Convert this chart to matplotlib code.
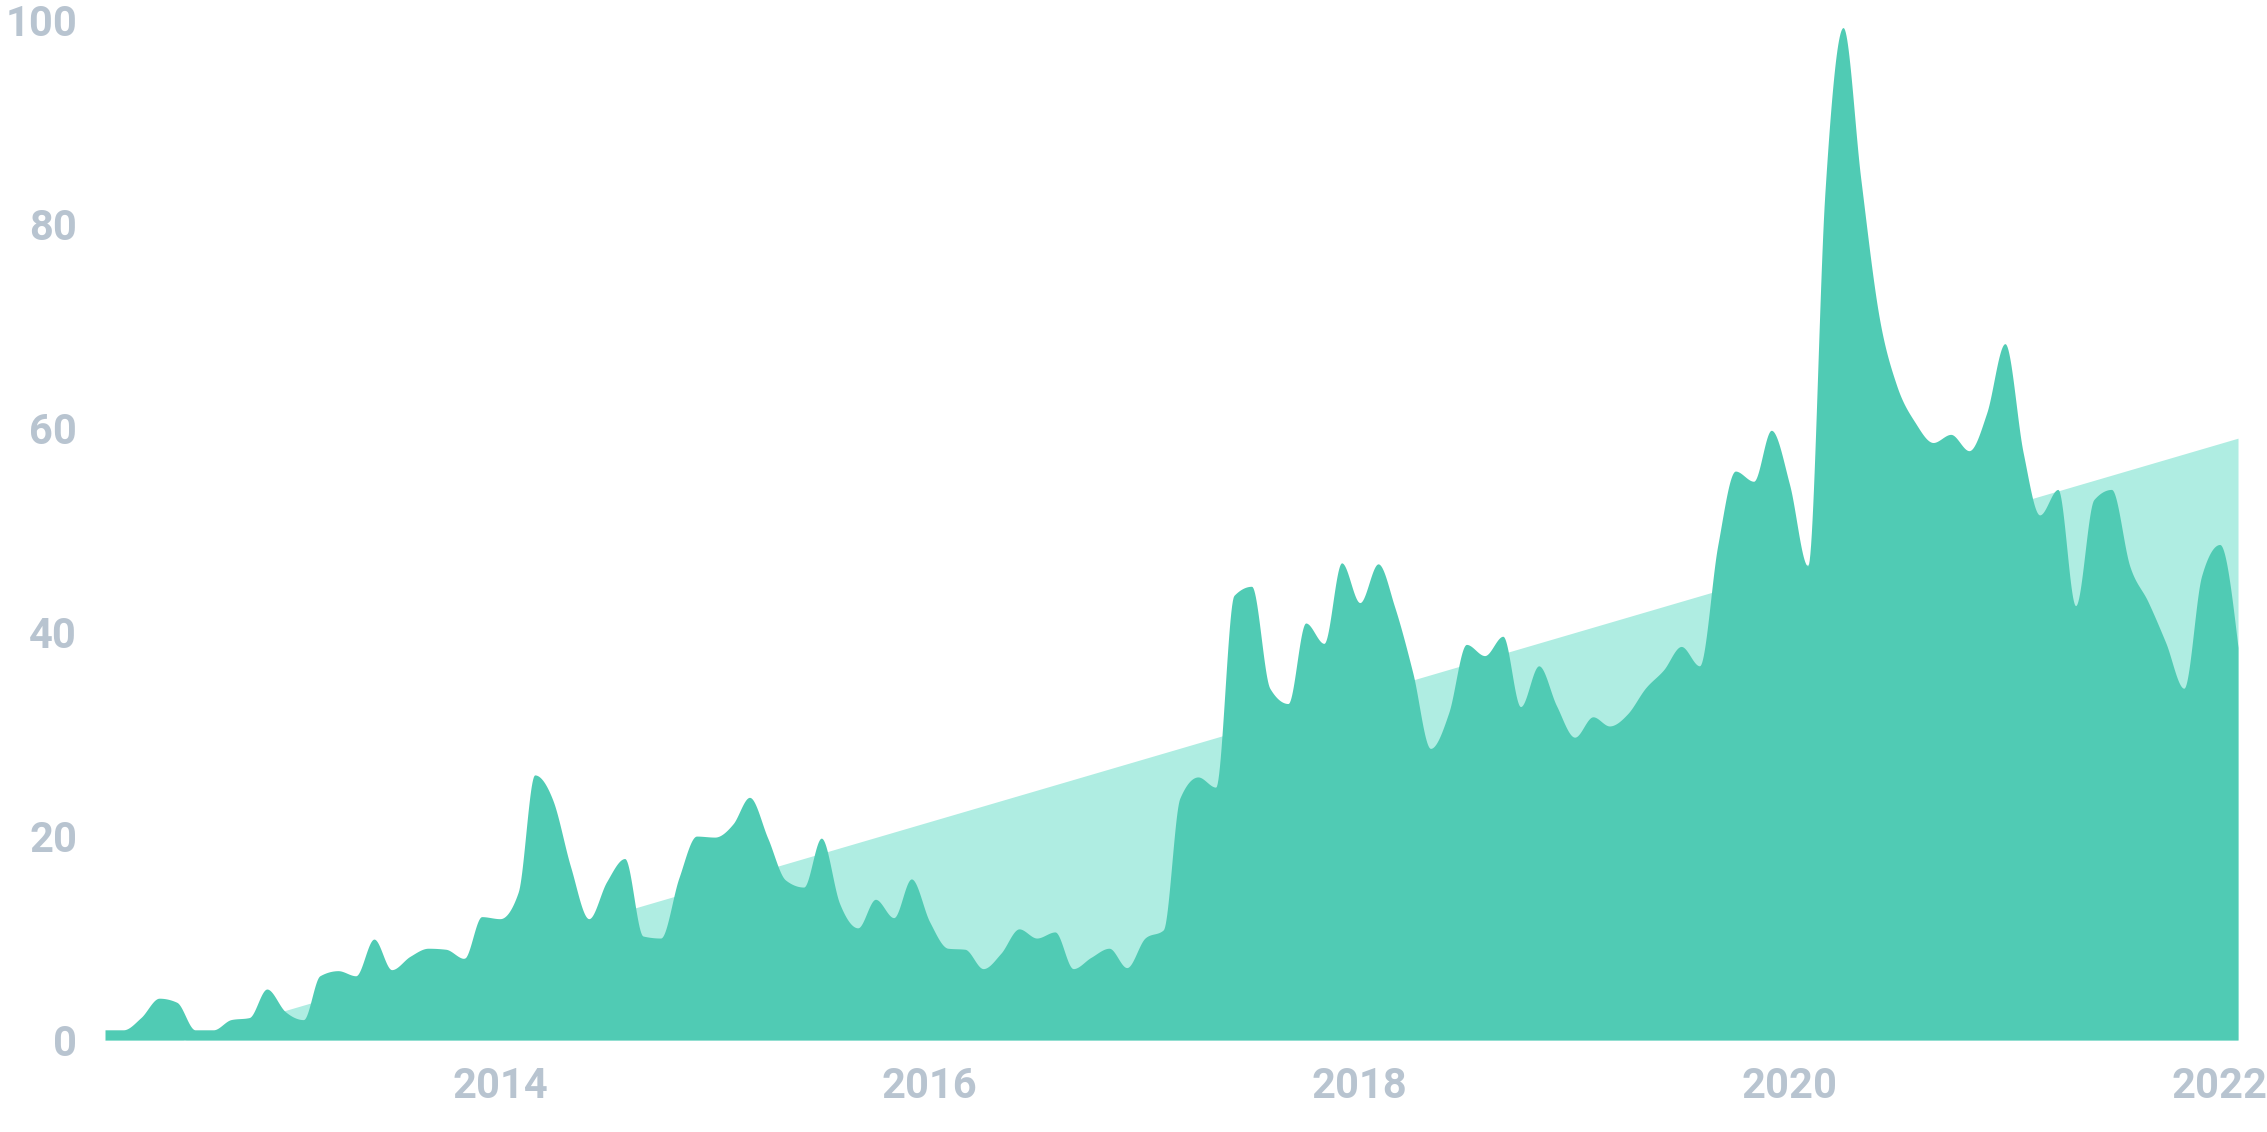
import numpy as np
import pandas as pd
import matplotlib
matplotlib.use("Agg")
import matplotlib.pyplot as plt
import matplotlib.dates as mdates


# monthly values, Mar 2012 .. Feb 2022
start_month = "2012-03-01"
values = [
    1.0, 1.0, 2.2, 4.1, 3.7, 1.0, 1.0, 2.0, 2.2, 5.0,
    2.8, 2.0, 6.3, 6.8, 6.3, 9.9, 6.9, 8.2, 9.0, 8.9,
    8.0, 12.1, 11.9, 14.5, 26.0, 23.5, 17.0, 11.9, 15.5, 17.8,
    10.2, 10.0, 15.9, 20.0, 19.9, 21.2, 23.8, 19.8, 15.7, 15.0,
    19.8, 13.4, 11.0, 13.8, 12.0, 15.8, 11.6, 9.0, 8.9, 7.0,
    8.5, 10.9, 10.0, 10.6, 7.0, 8.1, 9.0, 7.1, 10.0, 10.8,
    23.7, 25.8, 24.8, 43.6, 44.5, 34.5, 33.0, 40.9, 38.9, 46.8,
    42.9, 46.7, 42.5, 36.0, 28.6, 32.1, 38.8, 37.7, 39.6, 32.7,
    36.7, 32.8, 29.7, 31.7, 30.8, 32.0, 34.5, 36.3, 38.6, 36.7,
    48.5, 55.8, 54.8, 59.8, 54.5, 46.5, 83.0, 99.3, 84.5, 71.0,
    64.2, 60.6, 58.6, 59.4, 57.8, 61.5, 68.3, 57.6, 51.5, 54.0,
    42.6, 53.0, 54.0, 46.5, 43.0, 39.0, 34.5, 45.5, 48.6, 38.5,
]
year_ticks = [2014, 2016, 2018, 2020, 2022]
y_ticks = [0, 20, 40, 60, 80, 100]

dark = "#50cbb4"
light = "#afede2"
label_col = "#b8c4d0"


# monotone cubic curve (same idea as d3 curveMonotoneX)
def monotone(x, y, steps=24):
    x = np.asarray(x, float)
    y = np.asarray(y, float)
    h = np.diff(x)
    s = np.diff(y) / h
    t = np.zeros_like(y)
    h0, h1 = h[:-1], h[1:]
    s0, s1 = s[:-1], s[1:]
    p = (s0 * h1 + s1 * h0) / (h0 + h1)
    t[1:-1] = (np.sign(s0) + np.sign(s1)) * np.minimum(np.minimum(np.abs(s0), np.abs(s1)), 0.5 * np.abs(p))
    t[0] = (3 * s[0] - t[1]) / 2
    t[-1] = (3 * s[-1] - t[-2]) / 2
    u = np.linspace(0, 1, steps, endpoint=False)
    a = 2 * u**3 - 3 * u**2 + 1
    b = u**3 - 2 * u**2 + u
    c = -2 * u**3 + 3 * u**2
    d = u**3 - u**2
    xs, ys = [], []
    for k in range(len(h)):
        xs.append(x[k] + u * h[k])
        ys.append(a * y[k] + b * h[k] * t[k] + c * y[k + 1] + d * h[k] * t[k + 1])
    xs.append([x[-1]])
    ys.append([y[-1]])
    return np.concatenate(xs), np.concatenate(ys)


dates = pd.date_range(start_month, periods=len(values), freq="MS")
xnum = mdates.date2num(dates.to_pydatetime())

# linear trend of the series
k, b0 = np.polyfit(np.arange(len(values)), values, 1)
trend = k * np.arange(len(values)) + b0

fig = plt.figure(figsize=(22.67, 11.32), dpi=100)
ax = fig.add_axes([0.04632, 0.08127, 0.94089, 0.91873])

ax.fill_between([xnum[0], xnum[-1]], 0, [trend[0], trend[-1]], color=light, lw=0)
sx, sy = monotone(xnum, values)
ax.fill_between(sx, 0, sy, color=dark, lw=0)

ax.set_xlim(xnum[0], xnum[-1])
ax.set_ylim(0, 102)

ax.set_yticks(y_ticks)
ax.set_yticklabels([str(v) for v in y_ticks])
tick_x = [mdates.date2num(pd.Timestamp(f"{yr}-01-01").to_pydatetime()) for yr in year_ticks]
ax.set_xticks(tick_x)
ax.set_xticklabels([str(yr) for yr in year_ticks])

for lab in ax.get_xticklabels() + ax.get_yticklabels():
    lab.set_fontfamily("Roboto")
    lab.set_fontweight("bold")
    lab.set_fontsize(30)
    lab.set_color(label_col)

ax.tick_params(axis="both", length=0)
ax.tick_params(axis="x", pad=19)
ax.tick_params(axis="y", pad=20)
for sp in ax.spines.values():
    sp.set_visible(False)

fig.savefig("out.png", dpi=100)
